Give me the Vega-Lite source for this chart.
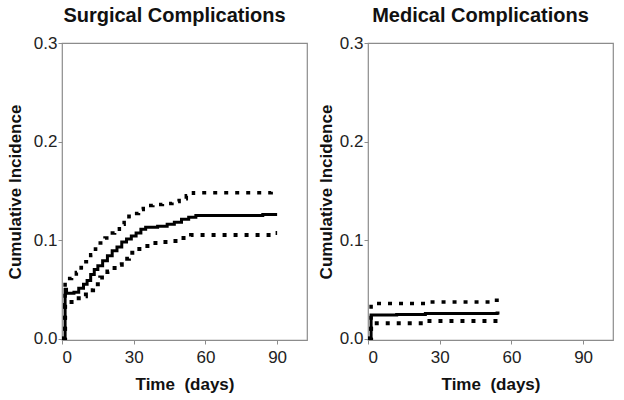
{
  "$schema": "https://vega.github.io/schema/vega-lite/v6.json",
  "background": "white",
  "padding": {"left": 5, "top": 5, "right": 5, "bottom": 5},
  "spacing": 8,
  "config": {
    "font": "Liberation Sans",
    "view": {"stroke": "#8c8c8c", "strokeWidth": 1.2},
    "axis": {
      "grid": false,
      "domain": false,
      "tickColor": "#8c8c8c",
      "tickSize": 4,
      "labelFont": "Liberation Sans",
      "labelFontSize": 17,
      "labelColor": "#222222",
      "titleFont": "Liberation Sans",
      "titleFontSize": 17,
      "titleFontWeight": "bold",
      "titleColor": "#111111"
    },
    "title": {"font": "Liberation Sans", "fontSize": 20, "fontWeight": "bold", "color": "#111111", "offset": 8, "dx": -10}
  },
  "data": {
    "values": [
      {"panel": "Surgical", "series": "Estimate", "day": 0, "value": 0},
      {"panel": "Surgical", "series": "Estimate", "day": 1.3, "value": 0.05},
      {"panel": "Surgical", "series": "Estimate", "day": 1.9, "value": 0.046},
      {"panel": "Surgical", "series": "Estimate", "day": 5, "value": 0.047},
      {"panel": "Surgical", "series": "Estimate", "day": 7, "value": 0.051},
      {"panel": "Surgical", "series": "Estimate", "day": 9, "value": 0.055},
      {"panel": "Surgical", "series": "Estimate", "day": 10.5, "value": 0.059},
      {"panel": "Surgical", "series": "Estimate", "day": 12, "value": 0.065},
      {"panel": "Surgical", "series": "Estimate", "day": 13.5, "value": 0.07},
      {"panel": "Surgical", "series": "Estimate", "day": 15, "value": 0.074},
      {"panel": "Surgical", "series": "Estimate", "day": 17, "value": 0.079},
      {"panel": "Surgical", "series": "Estimate", "day": 19, "value": 0.084},
      {"panel": "Surgical", "series": "Estimate", "day": 21, "value": 0.089},
      {"panel": "Surgical", "series": "Estimate", "day": 23, "value": 0.093},
      {"panel": "Surgical", "series": "Estimate", "day": 25, "value": 0.098},
      {"panel": "Surgical", "series": "Estimate", "day": 27, "value": 0.101},
      {"panel": "Surgical", "series": "Estimate", "day": 29, "value": 0.104},
      {"panel": "Surgical", "series": "Estimate", "day": 31, "value": 0.107},
      {"panel": "Surgical", "series": "Estimate", "day": 33, "value": 0.111},
      {"panel": "Surgical", "series": "Estimate", "day": 35, "value": 0.113},
      {"panel": "Surgical", "series": "Estimate", "day": 40, "value": 0.114},
      {"panel": "Surgical", "series": "Estimate", "day": 44, "value": 0.116},
      {"panel": "Surgical", "series": "Estimate", "day": 47, "value": 0.118},
      {"panel": "Surgical", "series": "Estimate", "day": 50, "value": 0.121},
      {"panel": "Surgical", "series": "Estimate", "day": 53, "value": 0.123},
      {"panel": "Surgical", "series": "Estimate", "day": 56, "value": 0.125},
      {"panel": "Surgical", "series": "Estimate", "day": 84, "value": 0.126},
      {"panel": "Surgical", "series": "Estimate", "day": 90, "value": 0.126},
      {"panel": "Surgical", "series": "Upper", "day": 0, "value": 0},
      {"panel": "Surgical", "series": "Upper", "day": 1.3, "value": 0.061},
      {"panel": "Surgical", "series": "Upper", "day": 4, "value": 0.062},
      {"panel": "Surgical", "series": "Upper", "day": 6, "value": 0.067},
      {"panel": "Surgical", "series": "Upper", "day": 8, "value": 0.072},
      {"panel": "Surgical", "series": "Upper", "day": 10, "value": 0.078},
      {"panel": "Surgical", "series": "Upper", "day": 12, "value": 0.085},
      {"panel": "Surgical", "series": "Upper", "day": 14, "value": 0.091},
      {"panel": "Surgical", "series": "Upper", "day": 16, "value": 0.097},
      {"panel": "Surgical", "series": "Upper", "day": 18, "value": 0.102},
      {"panel": "Surgical", "series": "Upper", "day": 20, "value": 0.107},
      {"panel": "Surgical", "series": "Upper", "day": 22, "value": 0.111},
      {"panel": "Surgical", "series": "Upper", "day": 24, "value": 0.116},
      {"panel": "Surgical", "series": "Upper", "day": 26, "value": 0.12},
      {"panel": "Surgical", "series": "Upper", "day": 28, "value": 0.124},
      {"panel": "Surgical", "series": "Upper", "day": 30, "value": 0.127},
      {"panel": "Surgical", "series": "Upper", "day": 32, "value": 0.131},
      {"panel": "Surgical", "series": "Upper", "day": 34, "value": 0.135},
      {"panel": "Surgical", "series": "Upper", "day": 38, "value": 0.136},
      {"panel": "Surgical", "series": "Upper", "day": 42, "value": 0.137},
      {"panel": "Surgical", "series": "Upper", "day": 46, "value": 0.139},
      {"panel": "Surgical", "series": "Upper", "day": 49, "value": 0.142},
      {"panel": "Surgical", "series": "Upper", "day": 52, "value": 0.145},
      {"panel": "Surgical", "series": "Upper", "day": 55, "value": 0.148},
      {"panel": "Surgical", "series": "Upper", "day": 85, "value": 0.148},
      {"panel": "Surgical", "series": "Upper", "day": 87.5, "value": 0.15},
      {"panel": "Surgical", "series": "Upper", "day": 90, "value": 0.15},
      {"panel": "Surgical", "series": "Lower", "day": 0, "value": 0},
      {"panel": "Surgical", "series": "Lower", "day": 1.3, "value": 0.034},
      {"panel": "Surgical", "series": "Lower", "day": 4, "value": 0.037},
      {"panel": "Surgical", "series": "Lower", "day": 7, "value": 0.043},
      {"panel": "Surgical", "series": "Lower", "day": 10, "value": 0.049},
      {"panel": "Surgical", "series": "Lower", "day": 13, "value": 0.055},
      {"panel": "Surgical", "series": "Lower", "day": 16, "value": 0.062},
      {"panel": "Surgical", "series": "Lower", "day": 19, "value": 0.068},
      {"panel": "Surgical", "series": "Lower", "day": 22, "value": 0.075},
      {"panel": "Surgical", "series": "Lower", "day": 25, "value": 0.081},
      {"panel": "Surgical", "series": "Lower", "day": 28, "value": 0.087},
      {"panel": "Surgical", "series": "Lower", "day": 31, "value": 0.091},
      {"panel": "Surgical", "series": "Lower", "day": 34, "value": 0.094},
      {"panel": "Surgical", "series": "Lower", "day": 37, "value": 0.097},
      {"panel": "Surgical", "series": "Lower", "day": 42, "value": 0.098},
      {"panel": "Surgical", "series": "Lower", "day": 46, "value": 0.099},
      {"panel": "Surgical", "series": "Lower", "day": 50, "value": 0.102},
      {"panel": "Surgical", "series": "Lower", "day": 54, "value": 0.105},
      {"panel": "Surgical", "series": "Lower", "day": 85, "value": 0.105},
      {"panel": "Surgical", "series": "Lower", "day": 87.5, "value": 0.107},
      {"panel": "Surgical", "series": "Lower", "day": 90, "value": 0.107},
      {"panel": "Medical", "series": "Estimate", "day": 0, "value": 0},
      {"panel": "Medical", "series": "Estimate", "day": 1.3, "value": 0.024},
      {"panel": "Medical", "series": "Estimate", "day": 12, "value": 0.0245},
      {"panel": "Medical", "series": "Estimate", "day": 24, "value": 0.0255},
      {"panel": "Medical", "series": "Estimate", "day": 54, "value": 0.026},
      {"panel": "Medical", "series": "Estimate", "day": 55, "value": 0.026},
      {"panel": "Medical", "series": "Upper", "day": 0, "value": 0},
      {"panel": "Medical", "series": "Upper", "day": 1.3, "value": 0.0355},
      {"panel": "Medical", "series": "Upper", "day": 24, "value": 0.037},
      {"panel": "Medical", "series": "Upper", "day": 53, "value": 0.0388},
      {"panel": "Medical", "series": "Upper", "day": 55, "value": 0.0388},
      {"panel": "Medical", "series": "Lower", "day": 0, "value": 0},
      {"panel": "Medical", "series": "Lower", "day": 1.3, "value": 0.0155},
      {"panel": "Medical", "series": "Lower", "day": 24, "value": 0.0178},
      {"panel": "Medical", "series": "Lower", "day": 55, "value": 0.0178}
    ]
  },
  "hconcat": [
    {
      "title": "Surgical Complications",
      "width": 245,
      "height": 297,
      "transform": [{"filter": "datum.panel === 'Surgical'"}],
      "mark": {"type": "line", "interpolate": "step-after", "color": "black", "strokeCap": "butt", "clip": true},
      "encoding": {
        "x": {"field": "day", "type": "quantitative", "scale": {"domain": [0, 102.5], "nice": false, "zero": false}, "axis": {"values": [0, 30, 60, 90], "title": "Time\u00a0 (days)", "labelPadding": 5, "titlePadding": 11}},
        "y": {"field": "value", "type": "quantitative", "scale": {"domain": [-0.0015, 0.3], "nice": false, "zero": false}, "axis": {"values": [0, 0.1, 0.2, 0.3], "format": ".1f", "title": "Cumulative Incidence", "labelPadding": 1, "titlePadding": 9}},
        "detail": {"field": "series"},
        "strokeDash": {"field": "series", "type": "nominal", "scale": {"domain": ["Estimate", "Upper", "Lower"], "range": [[1, 0], [4, 7], [4, 7]]}, "legend": null},
        "strokeWidth": {"field": "series", "type": "nominal", "scale": {"domain": ["Estimate", "Upper", "Lower"], "range": [3, 4, 4]}, "legend": null}
      }
    },
    {
      "title": "Medical Complications",
      "width": 245,
      "height": 297,
      "transform": [{"filter": "datum.panel === 'Medical'"}],
      "mark": {"type": "line", "interpolate": "step-after", "color": "black", "strokeCap": "butt", "clip": true},
      "encoding": {
        "x": {"field": "day", "type": "quantitative", "scale": {"domain": [0, 102.5], "nice": false, "zero": false}, "axis": {"values": [0, 30, 60, 90], "title": "Time\u00a0 (days)", "labelPadding": 5, "titlePadding": 11}},
        "y": {"field": "value", "type": "quantitative", "scale": {"domain": [-0.0015, 0.3], "nice": false, "zero": false}, "axis": {"values": [0, 0.1, 0.2, 0.3], "format": ".1f", "title": "Cumulative Incidence", "labelPadding": 1, "titlePadding": 4}},
        "detail": {"field": "series"},
        "strokeDash": {"field": "series", "type": "nominal", "scale": {"domain": ["Estimate", "Upper", "Lower"], "range": [[1, 0], [4, 7], [4, 7]]}, "legend": null},
        "strokeWidth": {"field": "series", "type": "nominal", "scale": {"domain": ["Estimate", "Upper", "Lower"], "range": [3, 4, 4]}, "legend": null}
      }
    }
  ]
}
